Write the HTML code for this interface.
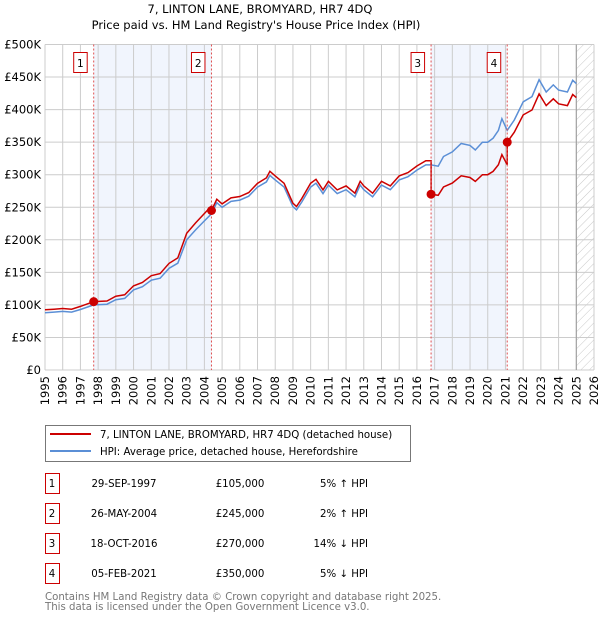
<!DOCTYPE html>
<html><head><meta charset="utf-8">
<style>
body{margin:0;background:#fff;font-family:"DejaVu Sans","Liberation Sans",sans-serif;}
svg text{font-family:"DejaVu Sans","Liberation Sans",sans-serif;}
</style></head>
<body>
<svg id="c" width="600" height="620" xmlns="http://www.w3.org/2000/svg">
<defs>
<pattern id="hatch" width="6" height="6" patternUnits="userSpaceOnUse" patternTransform="rotate(45)">
<line x1="0" y1="0" x2="0" y2="6" stroke="#bbb" stroke-width="0.8"/>
</pattern>
</defs>
<text x="260" y="13" text-anchor="middle" font-size="11.5">7, LINTON LANE, BROMYARD, HR7 4DQ</text>
<text x="256" y="29" text-anchor="middle" font-size="11.5">Price paid vs. HM Land Registry's House Price Index (HPI)</text>
<g id="plot"></g>
<rect x="45.5" y="425.5" width="365" height="36" fill="#fff" stroke="#777"/>
<line x1="50" y1="434" x2="91" y2="434" stroke="#cc0000" stroke-width="2"/>
<text x="100" y="438" font-size="10.2">7, LINTON LANE, BROMYARD, HR7 4DQ (detached house)</text>
<line x1="50" y1="451" x2="91" y2="451" stroke="#5b8fd6" stroke-width="2"/>
<text x="100" y="455" font-size="10.2">HPI: Average price, detached house, Herefordshire</text>
<g id="table"></g>
<text x="45" y="600" font-size="10.2" fill="#777">Contains HM Land Registry data © Crown copyright and database right 2025.</text>
<text x="45" y="610" font-size="10.2" fill="#777">This data is licensed under the Open Government Licence v3.0.</text>
</svg>
<script>
const hpiYears=[1995,1995.5,1996,1996.5,1997,1997.75,1998.5,1999,1999.5,2000,2000.5,2001,2001.5,2002,2002.5,2003,2003.5,2004,2004.4,2004.7,2005,2005.5,2006,2006.5,2007,2007.5,2007.7,2008,2008.5,2009,2009.2,2009.5,2010,2010.3,2010.7,2011,2011.5,2012,2012.5,2012.8,2013,2013.5,2014,2014.5,2015,2015.5,2016,2016.5,2016.8,2017.2,2017.5,2018,2018.5,2019,2019.3,2019.7,2020,2020.3,2020.6,2020.8,2021.1,2021.5,2022,2022.5,2022.9,2023.3,2023.7,2024,2024.5,2024.8,2025];
const hpiValues=[88,89,90,89,93,100,101,108,110,123,128,138,141,156,164,200,215,229,240,257,250,259,261,267,281,289,299,292,281,251,246,258,281,287,271,284,271,277,266,284,277,266,284,277,292,297,307,315,315,313,328,335,348,345,338,350,350,356,368,386,368,384,412,420,446,427,438,430,427,445,440];
const saleLabels=["1","2","3","4"];
const saleYears=[1997.75,2004.4,2016.8,2021.1];
const salePrices=[105000,245000,270000,350000];
const saleDates=["29-SEP-1997","26-MAY-2004","18-OCT-2016","05-FEB-2021"];
const saleDiffs=["5% \u2191 HPI","2% \u2191 HPI","14% \u2193 HPI","5% \u2193 HPI"];
const yTicks=[0,50,100,150,200,250,300,350,400,450,500];
const yTickLabels=["£0","£50K","£100K","£150K","£200K","£250K","£300K","£350K","£400K","£450K","£500K"];
const xTicks=[1995,1996,1997,1998,1999,2000,2001,2002,2003,2004,2005,2006,2007,2008,2009,2010,2011,2012,2013,2014,2015,2016,2017,2018,2019,2020,2021,2022,2023,2024,2025,2026];

const X0=45,X1=594,Y0=370,Y1=44.5;
const xs=y=>X0+(y-1995)/(2026-1995)*(X1-X0);
const ys=v=>Y0-v/500*(Y0-Y1);
const NS="http://www.w3.org/2000/svg";
const plot=document.getElementById('plot');
function mk(tag,attrs,parent){const e=document.createElementNS(NS,tag);for(const k in attrs)e.setAttribute(k,attrs[k]);(parent||plot).appendChild(e);return e;}

for(let i=0;i<saleYears.length;i+=2){
  const r=mk('rect',{x:xs(saleYears[i]),y:Y1,width:xs(saleYears[i+1])-xs(saleYears[i]),height:Y0-Y1,fill:'#eef3fc',opacity:0.8});
  
  
}
const hr=mk('rect',{x:xs(2025),y:Y1,width:X1-xs(2025),height:Y0-Y1,fill:'url(#hatch)'});


yTicks.forEach((t,i)=>{
  const l=mk('line',{x1:X0,x2:X1,y1:ys(t),y2:ys(t),stroke:'#ccc','stroke-width':1});
  
  
  const tx=mk('text',{x:X0-4,y:ys(t)+4,'text-anchor':'end','font-size':'11.5'});
  tx.textContent=yTickLabels[i];
  
  
});
xTicks.forEach(t=>{
  const l=mk('line',{x1:xs(t),x2:xs(t),y1:Y1,y2:Y0,stroke:'#ccc','stroke-width':1});
  
  
  const tx=mk('text',{x:0,y:0,'font-size':'11.5','text-anchor':'end',transform:`translate(${(xs(t)+4).toFixed(1)},${Y0+6}) rotate(-90)`});
  tx.textContent=t;
  
  
});
const vl=mk('line',{x1:xs(2025),x2:xs(2025),y1:Y1,y2:Y0,stroke:'#999','stroke-width':1});



function hpiAt(y){for(let i=1;i<hpiYears.length;i++){if(y<=hpiYears[i]){const a=hpiYears[i-1],b=hpiYears[i];return hpiValues[i-1]+(hpiValues[i]-hpiValues[i-1])*(y-a)/(b-a);}}return hpiValues[hpiValues.length-1];}
const bp=hpiYears.map((y,i)=>`${xs(y).toFixed(1)},${ys(hpiValues[i]).toFixed(1)}`).join(' ');
const bl=mk('polyline',{points:bp,fill:'none',stroke:'#5b8fd6','stroke-width':1.5});


const factors=saleYears.map((y,i)=>salePrices[i]/1000/hpiAt(y));
let pts=[];
hpiYears.forEach((y,i)=>{
  let k=0;for(let j=0;j<saleYears.length;j++)if(y>=saleYears[j])k=j;
  saleYears.forEach((sy,j)=>{if(j>0&&i>0&&sy>hpiYears[i-1]&&sy<=y){pts.push([sy,hpiAt(sy)*factors[j-1]]);pts.push([sy,hpiAt(sy)*factors[j]]);}});
  pts.push([y,hpiValues[i]*factors[k]]);
});
const rl=mk('polyline',{points:pts.map(p=>`${xs(p[0]).toFixed(1)},${ys(p[1]).toFixed(1)}`).join(' '),fill:'none',stroke:'#cc0000','stroke-width':1.5});


saleYears.forEach((y,i)=>{
  const l=mk('line',{x1:xs(y),x2:xs(y),y1:Y1,y2:Y0,stroke:'#e05050','stroke-width':1,'stroke-dasharray':'2,2'});
  
  
  const c=mk('circle',{cx:xs(y),cy:ys(salePrices[i]/1000),r:4.5,fill:'#cc0000'});
  
  
  const bx=mk('rect',{x:xs(y)-20,y:52.5,width:13.5,height:20,fill:'#fff',stroke:'#cc0000'});
  
  
  const tx=mk('text',{x:xs(y)-13.3,y:67,'text-anchor':'middle','font-size':'10.5'});
  tx.textContent=saleLabels[i];
  
  
});
const tb=document.getElementById('table');
saleLabels.forEach((s,i)=>{
  const cy=483+i*30;
  const b=mk('rect',{x:45.5,y:cy-9.5,width:14,height:20,fill:'#fff',stroke:'#cc0000'},tb);
  
  
  const cols=[[52,s,'middle'],[124,saleDates[i],'middle'],[240,'£'+salePrices[i].toLocaleString('en-GB'),'middle'],[368,saleDiffs[i],'end']];
  const names=['table-row-number','table-row-date','table-row-price','table-row-hpi-diff'];
  cols.forEach((c,j)=>{
    const t=mk('text',{x:c[0],y:cy+4,'text-anchor':c[2],'font-size':'10.2'},tb);
    t.textContent=c[1];
    
    
  });
});
</script>
</body></html>
